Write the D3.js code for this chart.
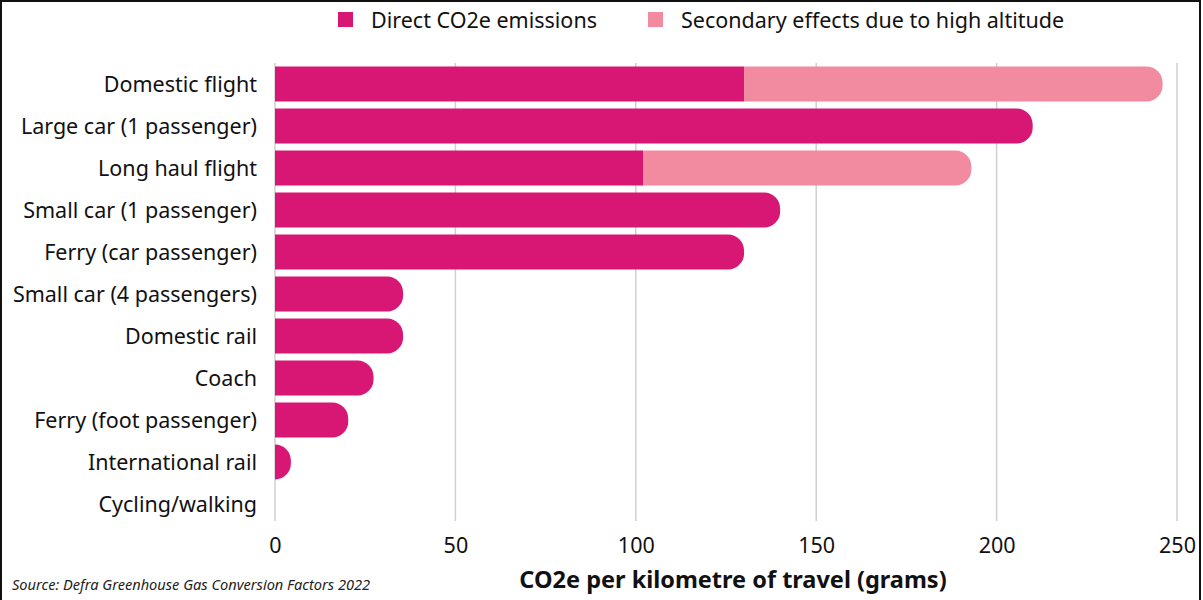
<!DOCTYPE html>
<html>
<head>
<meta charset="utf-8">
<script src="https://cdn.jsdelivr.net/npm/d3@7"></script>
<style>
  html, body { margin: 0; padding: 0; background: #fff; }
  svg { display: block; font-family: "Noto Sans", "Open Sans", sans-serif; }
</style>
</head>
<body>
<svg id="chart" width="1203" height="600"></svg>
<script>
// Travel modes, top to bottom
const categories = [
  "Domestic flight",
  "Large car (1 passenger)",
  "Long haul flight",
  "Small car (1 passenger)",
  "Ferry (car passenger)",
  "Small car (4 passengers)",
  "Domestic rail",
  "Coach",
  "Ferry (foot passenger)",
  "International rail",
  "Cycling/walking"
];
// grams CO2e per km
const directEmissions = [130, 210, 102, 140, 130, 35.5, 35.5, 27.3, 20.3, 4.4, 0];
const altitudeEffects = [116, 0, 91, 0, 0, 0, 0, 0, 0, 0, 0];
const seriesNames = ["Direct CO2e emissions", "Secondary effects due to high altitude"];
const xTicks = [0, 50, 100, 150, 200, 250];
const axisTitle = "CO2e per kilometre of travel (grams)";
const sourceNote = "Source: Defra Greenhouse Gas Conversion Factors 2022";

const colors = ["#d81674", "#f28ba0"];

const svg = d3.select("#chart");
const W = 1203, H = 600;

const x = d3.scaleLinear().domain([0, 250]).range([275, 1177]);
const y = d3.scaleBand().domain(categories).range([63, 525])
  .paddingInner(0.167).paddingOuter(0.0835);

// frame
svg.append("rect")
  .attr("x", 1).attr("y", 1).attr("width", W - 4).attr("height", H + 10)
  .attr("fill", "none").attr("stroke", "#111").attr("stroke-width", 2);

// vertical grid
svg.append("g").selectAll("line").data(xTicks).join("line")
  .attr("x1", d => x(d)).attr("x2", d => x(d))
  .attr("y1", 63).attr("y2", 521)
  .attr("stroke", "#d0d0d0").attr("stroke-width", 1.5);

// bar path with rounded right end
function barPath(x0, x1, y0, h, roundRight) {
  const w = x1 - x0;
  if (w <= 0) return "";
  if (!roundRight) return `M${x0},${y0}H${x1}V${y0 + h}H${x0}Z`;
  const r = Math.min(16, w, h / 2);
  return `M${x0},${y0}H${x1 - r}` +
    `A${r},${r} 0 0 1 ${x1},${y0 + r}` +
    `V${y0 + h - r}` +
    `A${r},${r} 0 0 1 ${x1 - r},${y0 + h}` +
    `H${x0}Z`;
}

const rows = categories.map((c, i) => ({
  cat: c, direct: directEmissions[i], extra: altitudeEffects[i]
}));

const bars = svg.append("g");
bars.selectAll("path.direct").data(rows).join("path")
  .attr("class", "direct")
  .attr("fill", colors[0])
  .attr("d", d => barPath(x(0), x(d.direct), y(d.cat), y.bandwidth(), d.extra === 0));
bars.selectAll("path.extra").data(rows.filter(d => d.extra > 0)).join("path")
  .attr("class", "extra")
  .attr("fill", colors[1])
  .attr("d", d => barPath(x(d.direct), x(d.direct + d.extra), y(d.cat), y.bandwidth(), true));

// category labels
svg.append("g").selectAll("text").data(categories).join("text")
  .attr("x", 257)
  .attr("y", d => y(d) + y.bandwidth() / 2)
  .attr("dy", "0.35em")
  .attr("text-anchor", "end")
  .attr("font-size", 21.5)
  .attr("fill", "#111")
  .text(d => d);

// x axis tick labels
const xAxis = d3.axisBottom(x).tickValues(xTicks).tickSize(0).tickPadding(0);
const gx = svg.append("g").attr("transform", "translate(0,538)").call(xAxis);
gx.select(".domain").remove();
gx.selectAll("text")
  .attr("font-size", 21.5)
  .attr("font-family", "\"Noto Sans\", sans-serif")
  .attr("fill", "#111")
  .attr("dy", "0.71em");

// axis title
svg.append("text")
  .attr("x", 733).attr("y", 588)
  .attr("text-anchor", "middle")
  .attr("font-size", 23.5).attr("font-weight", "bold")
  .attr("fill", "#111")
  .text(axisTitle);

// source
svg.append("text")
  .attr("x", 12).attr("y", 590)
  .attr("font-size", 14.6).attr("font-style", "italic")
  .attr("fill", "#222")
  .text(sourceNote);

// legend
const legendX = [338, 648];
const lg = svg.append("g").selectAll("g").data(seriesNames).join("g")
  .attr("transform", (d, i) => `translate(${legendX[i]},12)`);
lg.append("rect").attr("width", 15).attr("height", 15)
  .attr("fill", (d, i) => colors[i]);
lg.append("text").attr("x", 33).attr("y", 8).attr("dy", "0.35em")
  .attr("font-size", 21.5).attr("fill", "#111")
  .text(d => d);
</script>
</body>
</html>
